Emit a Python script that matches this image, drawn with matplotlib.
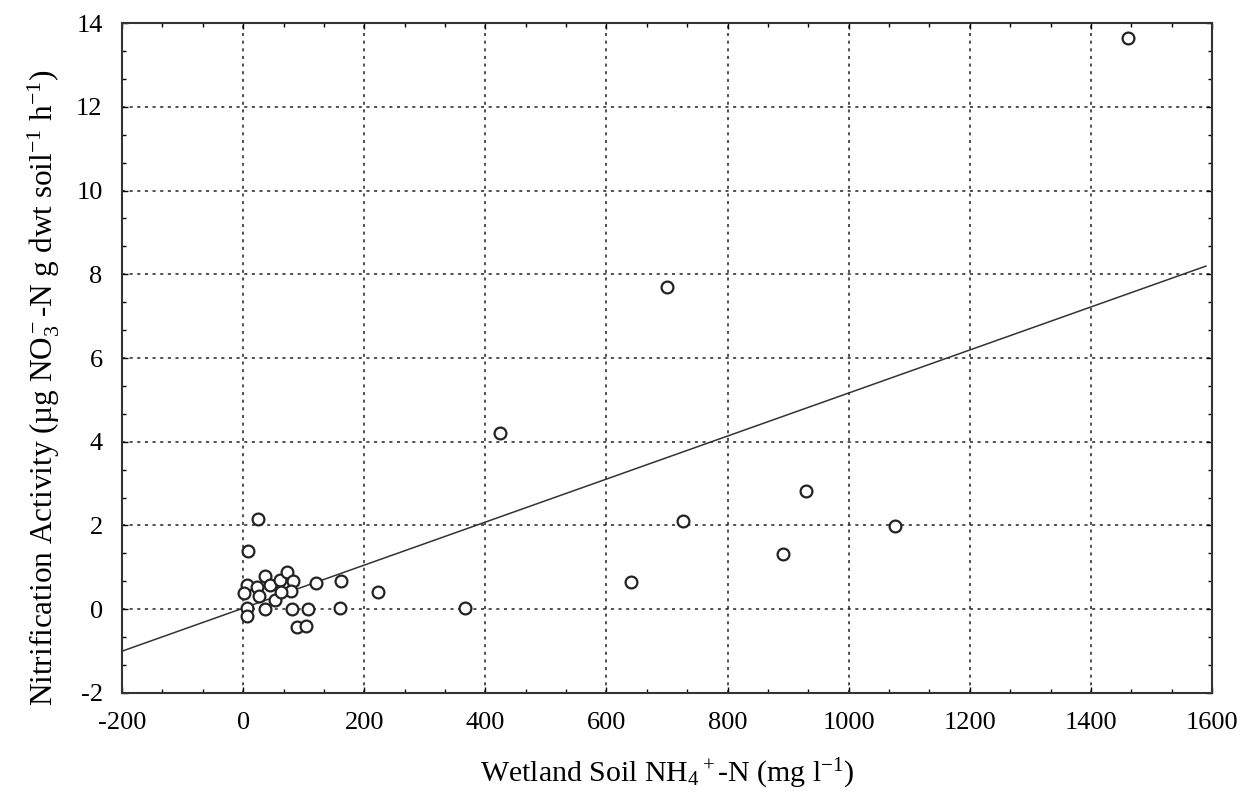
import numpy as np
import matplotlib
matplotlib.use('Agg')
import matplotlib.pyplot as plt
from matplotlib.ticker import MultipleLocator

plt.rcParams['font.family'] = ['Liberation Serif', 'DejaVu Serif']
plt.rcParams['mathtext.fontset'] = 'custom'
plt.rcParams['mathtext.rm'] = 'Liberation Serif'
plt.rcParams['mathtext.it'] = 'Liberation Serif:italic'
plt.rcParams['axes.unicode_minus'] = False

# 数据
nh4 = [1461, 700, 424, 727, 930, 1076, 892, 641, 161, 222, 160, 367,
       24, 8, 6, 2, 6, 6, 23, 26, 36, 44, 36, 52, 61, 72, 82, 79, 63,
       80, 107, 89, 104, 121]
nitr = [13.64, 7.70, 4.22, 2.11, 2.82, 1.98, 1.33, 0.65, 0.68, 0.41, 0.02, 0.02,
        2.15, 1.39, 0.57, 0.39, 0.04, -0.17, 0.53, 0.31, 0.79, 0.57, 0.0, 0.21, 0.71, 0.89, 0.67, 0.43, 0.41,
        0.0, 0.0, -0.42, -0.39, 0.63]

# 回归线
slope = 0.005137
intercept = 0.027
line_x = [-200, 1590]

fig = plt.figure(figsize=(12.46, 7.96), dpi=100)
ax = fig.add_axes([0.098, 0.1294, 0.8747, 0.8417])

ax.plot(nh4, nitr, 'o', mfc='white', mec='#222222', mew=1.6, ms=8.5, zorder=3)
lx = np.array(line_x)
ax.plot(lx, slope * lx + intercept, color='#333333', lw=1.1, zorder=2)

ax.set_xlim(-200, 1600)
ax.set_ylim(-2, 14)
ax.xaxis.set_major_locator(MultipleLocator(200))
ax.yaxis.set_major_locator(MultipleLocator(2))
ax.xaxis.set_minor_locator(MultipleLocator(200 / 3))
ax.yaxis.set_minor_locator(MultipleLocator(2 / 3))
ax.tick_params(which='both', direction='in', top=True, right=True, width=1)
ax.tick_params(which='major', length=4, labelsize=19, pad=14)
ax.tick_params(which='minor', length=3)
ax.grid(True, which='major', color='#222222', ls=(0, (2, 3)), lw=1.1)
for s in ax.spines.values():
    s.set_linewidth(1.5)
    s.set_color('#333333')

ax.set_xlabel(r'Wetland Soil NH$_4$$^+$-N (mg l$^{-1}$)', fontsize=21.5, labelpad=16)
ax.set_ylabel(r'Nitrification Activity (µg NO$_3^-$-N g dwt soil$^{-1}$ h$^{-1}$)', fontsize=22.5)
ax.yaxis.set_label_coords(-0.055, 0.455)

fig.savefig('out.png', dpi=100)
